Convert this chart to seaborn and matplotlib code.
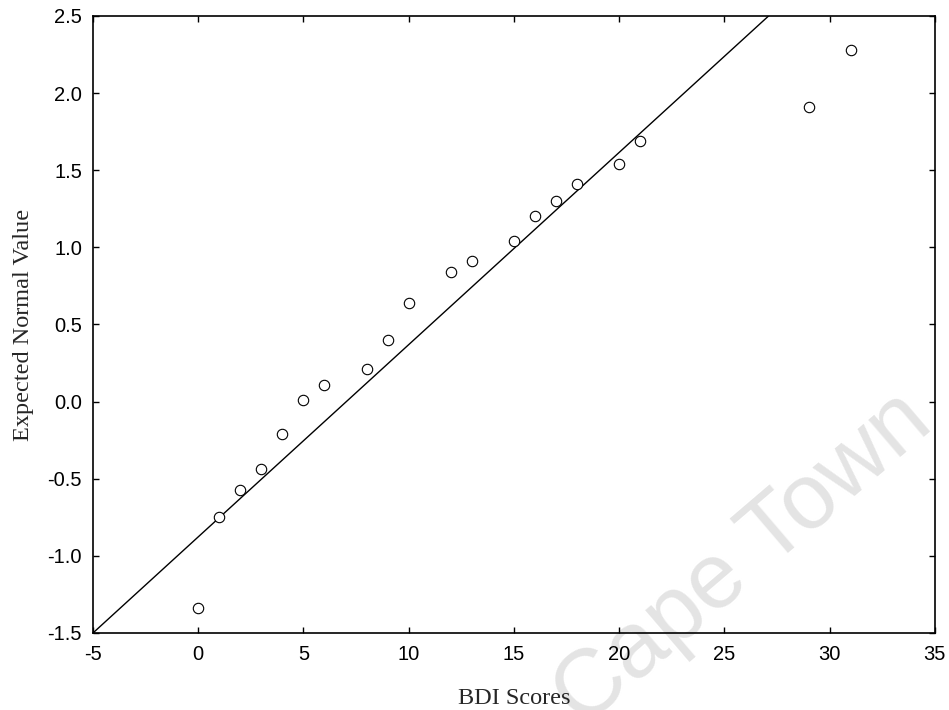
import matplotlib
matplotlib.use("Agg")
import matplotlib.pyplot as plt
import seaborn as sns
import numpy as np
import pandas as pd

bdi_scores = [0, 1, 2, 3, 4, 5, 6, 8, 9, 10, 12, 13, 15, 16, 17, 18, 20, 21, 29, 31]
expected_normal = [-1.34, -0.75, -0.57, -0.44, -0.21, 0.01, 0.11, 0.21, 0.40, 0.64,
                   0.84, 0.91, 1.04, 1.20, 1.30, 1.41, 1.54, 1.69, 1.91, 2.28]
line_intercept = -0.877
line_slope = 0.1246
x_ticks = [-5, 0, 5, 10, 15, 20, 25, 30, 35]
y_ticks = [-1.5, -1.0, -0.5, 0.0, 0.5, 1.0, 1.5, 2.0, 2.5]

sns.set_style("white")
plt.rcParams['font.family'] = ['Liberation Sans', 'DejaVu Sans']

fig = plt.figure(figsize=(9.49, 7.10), dpi=100)
ax = fig.add_axes([0.098, 0.1085, 0.887, 0.869])
ax.patch.set_alpha(0)

df = pd.DataFrame({"x": bdi_scores, "y": expected_normal})
line_x = np.array([x_ticks[0], x_ticks[-1]], dtype=float)
line_df = pd.DataFrame({"x": line_x, "y": line_intercept + line_slope * line_x})

sns.lineplot(data=line_df, x="x", y="y", ax=ax, color="black", linewidth=1.0)
ax.plot(df["x"], df["y"], linestyle="none", marker="o", markersize=7.5,
        markerfacecolor="white", markeredgecolor="black", markeredgewidth=0.8)

ax.set_xlim(-5, 35)
ax.set_ylim(-1.5, 2.5)
ax.set_xticks(x_ticks)
ax.set_yticks(y_ticks)
ax.set_xticklabels([str(t) for t in x_ticks])
ax.set_yticklabels([f"{t:.1f}" for t in y_ticks])
ax.tick_params(direction="in", length=4, width=1, top=True, right=True,
               bottom=True, left=True, labelsize=14.5, colors="black")
ax.tick_params(axis="x", pad=9)
ax.tick_params(axis="y", pad=8)
for s in ax.spines.values():
    s.set_color("black")
    s.set_linewidth(1.2)

ax.set_xlabel("BDI Scores", family=["Liberation Serif"], fontsize=17.5, labelpad=17)
ax.set_ylabel("Expected Normal Value", family=["Liberation Serif"], fontsize=17.5, labelpad=10)

fig.text(0.783, 0.212, "Cape Town", fontsize=67, color="#e4e4e4", rotation=40.5,
         ha="center", va="center", zorder=-1)

fig.savefig("out.png", dpi=100)
